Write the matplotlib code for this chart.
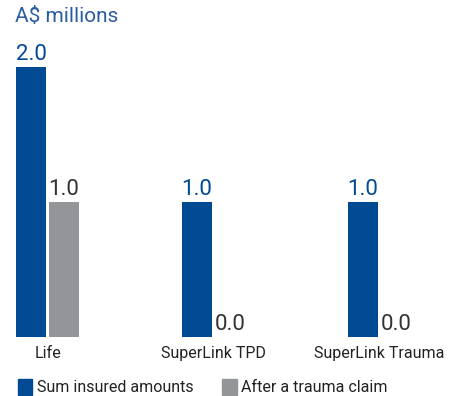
import matplotlib.pyplot as plt
import numpy as np
from matplotlib.patches import Patch

plt.rcParams['font.family'] = ['Roboto', 'DejaVu Sans']

categories = ["Life", "SuperLink TPD", "SuperLink Trauma"]
sum_insured = [2.0, 1.0, 1.0]
after_trauma = [1.0, 0.0, 0.0]
series_names = ["Sum insured amounts", "After a trauma claim"]

blue = "#004a93"
grey = "#939598"

fig = plt.figure(figsize=(4.51, 3.96), dpi=100)
ax = fig.add_axes([0, 59 / 396, 1, 337 / 396])

x = np.arange(len(categories))
w = 30 / 166
gap = 3 / 166
b1 = ax.bar(x - w / 2 - gap / 2, sum_insured, w, color=blue)
b2 = ax.bar(x + w / 2 + gap / 2, after_trauma, w, color=grey)

ax.set_xlim(-47.5 / 166, (451 - 47.5) / 166)
ax.set_ylim(0, 337 / 135)
ax.axis('off')

for rect, v in zip(b1, sum_insured):
    ax.text(rect.get_x() + rect.get_width() / 2, v + 0.015, f"{v:.1f}",
            ha='center', va='bottom', fontsize=16, color=blue)
for rect, v in zip(b2, after_trauma):
    ax.text(rect.get_x() + rect.get_width() / 2, v + 0.015, f"{v:.1f}",
            ha='center', va='bottom', fontsize=16, color="#333333")

for xi, c in zip(x, categories):
    ax.text(xi, -0.065, c, ha='center', va='top', fontsize=11.5, color="#222222")

fig.text(15 / 451, 1 - 7 / 396, "A$ millions", ha='left', va='top',
         fontsize=15, color="#2a5ca0")

handles = [Patch(color=blue), Patch(color=grey)]
fig.legend(handles, series_names, loc='lower left', bbox_to_anchor=(8 / 451, -9 / 396),
           ncol=2, frameon=False, fontsize=11.5, handlelength=0.9, handleheight=1.2,
           handletextpad=0.3, columnspacing=1.8, borderaxespad=0.2,
           labelcolor="#222222")

fig.savefig("out.png", dpi=100)
